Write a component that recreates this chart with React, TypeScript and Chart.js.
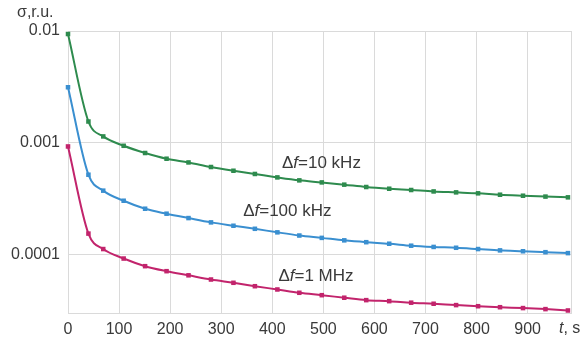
import React, { useEffect, useRef } from "react";
import { Chart, registerables } from "chart.js";

Chart.register(...registerables);

const times = [0, 40, 69, 109, 151, 193, 236, 280, 324, 366, 410, 453, 497, 541, 584, 629, 672, 716, 760, 803, 846, 891, 935, 979];

const sigma10kHz = [0.0094, 0.00155, 0.00114, 0.00094, 0.00081, 0.00072, 0.000667, 0.000607, 0.000562, 0.000526, 0.00049, 0.000461, 0.000442, 0.000422, 0.000402, 0.000388, 0.000378, 0.000367, 0.00036, 0.000353, 0.000343, 0.000336, 0.00033, 0.000325];

const sigma100kHz = [0.00314, 0.000518, 0.000373, 0.000303, 0.000257, 0.000232, 0.000212, 0.000194, 0.000181, 0.00017, 0.000158, 0.000148, 0.000141, 0.000134, 0.000129, 0.000125, 0.00012, 0.000117, 0.000115, 0.000112, 0.000109, 0.000107, 0.000105, 0.000103];

const sigma1MHz = [0.000927, 0.000154, 0.000112, 0.0000921, 0.0000787, 0.000071, 0.0000652, 0.0000598, 0.0000559, 0.0000521, 0.0000487, 0.0000455, 0.0000433, 0.0000411, 0.0000391, 0.0000383, 0.0000371, 0.0000363, 0.0000353, 0.0000345, 0.0000338, 0.0000332, 0.0000325, 0.0000316];

const xTickValues = [0, 100, 200, 300, 400, 500, 600, 700, 800, 900];
const yTickValues = [0.0001, 0.001, 0.01];
const X_MAX = 985;
const Y_MIN = 0.00003;
const Y_MAX = 0.01;

const seriesLabels = ["10 kHz", "100 kHz", "1 MHz"];
// label anchor (left x, center y) in data coordinates
const labelX = [419, 343, 412];
const labelY = [0.00066, 0.000244, 0.000064];

const COLORS = ["#2e8b4e", "#3a8fd0", "#c2246c"];
const FONT = "'Liberation Sans', Arial, sans-serif";
const TEXT = "#3a3a3a";

const annotationPlugin = {
  id: "annot",
  afterDraw(chart: any) {
    const ctx = chart.ctx;
    const xs = chart.scales.x;
    const ys = chart.scales.y;
    ctx.save();
    ctx.fillStyle = TEXT;
    ctx.textBaseline = "middle";
    ctx.textAlign = "left";
    const drawParts = (parts: [string, boolean][], x: number, y: number, size: number) => {
      let cx = x;
      for (const [t, it] of parts) {
        ctx.font = `${it ? "italic " : ""}${size}px ${FONT}`;
        ctx.fillText(t, cx, y);
        cx += ctx.measureText(t).width;
      }
    };
    seriesLabels.forEach((s, i) => {
      const px = xs.getPixelForValue(labelX[i]);
      const py = ys.getPixelForValue(labelY[i]);
      drawParts([["Δ", false], ["f", true], ["=" + s, false]], px, py, 17);
    });
    // axis titles
    drawParts([["t", true], [", s", false]], xs.getPixelForValue(X_MAX) - 12, chart.chartArea.bottom + 16, 16);
    drawParts([["σ,r.u.", false]], 17, 13, 16);
    ctx.restore();
  },
};

export default function App() {
  const ref = useRef<HTMLCanvasElement>(null);
  useEffect(() => {
    document.body.style.margin = "0";
    const chart = new Chart(ref.current as HTMLCanvasElement, {
      type: "line",
      data: {
        datasets: [sigma10kHz, sigma100kHz, sigma1MHz].map((arr, i) => ({
          label: seriesLabels[i],
          data: arr.map((v, j) => ({ x: times[j], y: v })),
          borderColor: COLORS[i],
          backgroundColor: COLORS[i],
          borderWidth: 2,
          pointStyle: "rect",
          pointRadius: 3.2,
          pointBorderWidth: 0,
          cubicInterpolationMode: "monotone",
          fill: false,
          clip: false,
        })),
      },
      options: {
        animation: false,
        responsive: false,
        events: [],
        layout: { padding: { left: 0, right: 14, top: 31, bottom: 0 } },
        plugins: { legend: { display: false }, tooltip: { enabled: false } },
        scales: {
          x: {
            type: "linear",
            min: 0,
            max: X_MAX,
            afterBuildTicks: (s: any) => {
              s.ticks = [...xTickValues, X_MAX].map((v) => ({ value: v }));
            },
            afterFit: (s: any) => {
              s.height = 28;
            },
            grid: { color: "#dadada", drawTicks: false, lineWidth: 1 },
            border: { color: "#dadada" },
            ticks: {
              padding: 7,
              color: TEXT,
              font: { family: FONT, size: 16 },
              maxRotation: 0,
              autoSkip: false,
              callback: (v: any) => (v === X_MAX ? "" : String(v)),
            },
          },
          y: {
            type: "logarithmic",
            min: Y_MIN,
            max: Y_MAX,
            afterBuildTicks: (s: any) => {
              s.ticks = yTickValues.map((v) => ({ value: v }));
            },
            afterFit: (s: any) => {
              s.width = 68;
            },
            grid: { color: "#dadada", drawTicks: false, lineWidth: 1 },
            border: { color: "#dadada" },
            ticks: {
              padding: 8,
              color: TEXT,
              font: { family: FONT, size: 16 },
              autoSkip: false,
              callback: (v: any) => String(v),
            },
          },
        },
      },
      plugins: [annotationPlugin],
    } as any);
    return () => chart.destroy();
  }, []);
  return (
    <div style={{ width: 585, height: 341 }}>
      <canvas ref={ref} width={585} height={341} />
    </div>
  );
}
